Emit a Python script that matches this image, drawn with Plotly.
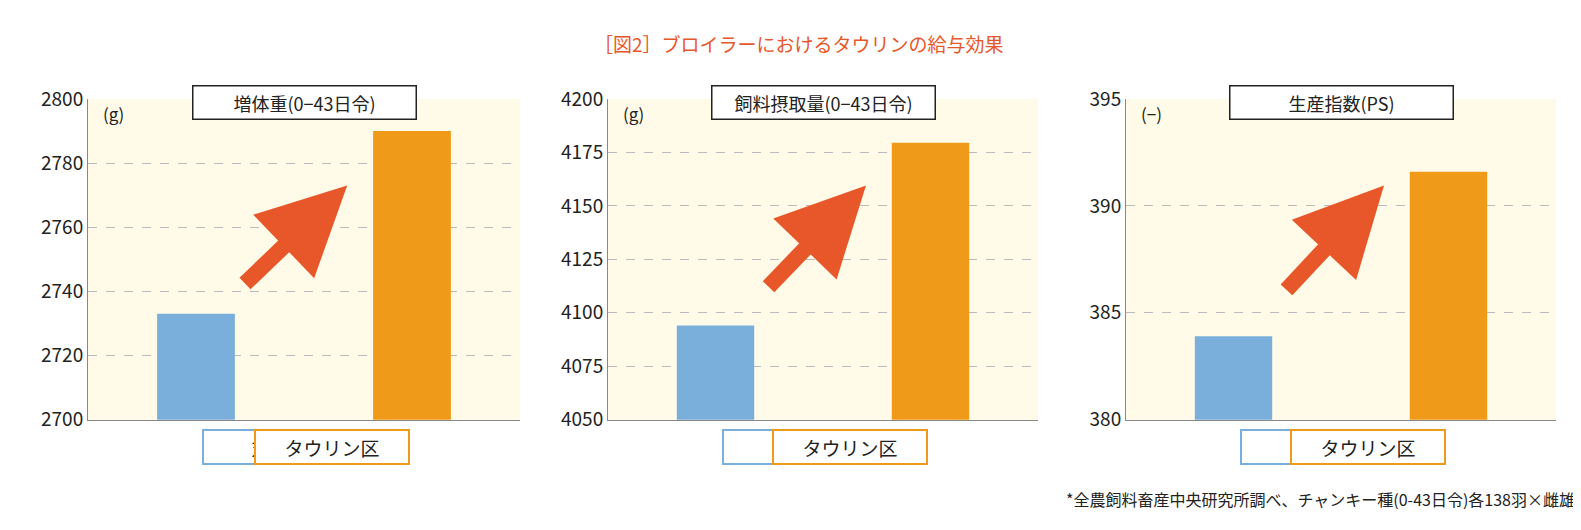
import plotly.graph_objects as go

# ── data ──
categories = ["対照区", "タウリン区"]
panel_titles = ["増体重(0−43日令)", "飼料摂取量(0−43日令)", "生産指数(PS)"]
units = ["(g)", "(g)", "(−)"]
weight_gain = [2733, 2790]
feed_intake = [4094, 4179.5]
production_index = [383.9, 391.6]
bar_labels = [["2733", "2790"], ["4094", "4179"], ["384", "392"]]
y_ranges = [[2700, 2800], [4050, 4200], [380, 395]]
y_dticks = [20, 25, 5]

BLUE = "#7aafdc"
ORANGE = "#f09a1a"
ARROW = "#e8572a"
FONT = "Noto Sans CJK JP"

W, H = 1581, 530
x_domains = [[80 / W, 512 / W], [600 / W, 1030 / W], [1118 / W, 1548 / W]]
y_domain = [1 - 418 / H, 1 - 80 / H]
arrows = [  # (tail x, tail y, head x, head y) in axis-domain fractions
    (0.36, 0.42, 0.6, 0.73),
    (0.37, 0.41, 0.6, 0.73),
    (0.37, 0.4, 0.6, 0.73),
]

fig = go.Figure()
series = [weight_gain, feed_intake, production_index]
for i, vals in enumerate(series):
    n = "" if i == 0 else str(i + 1)
    fig.add_trace(go.Bar(
        x=categories, y=vals, xaxis="x" + n, yaxis="y" + n,
        marker_color=[BLUE, ORANGE], marker_line_width=0,
        text=bar_labels[i], textposition="inside", insidetextanchor="start",
        textfont=dict(size=18, color="#222", family=FONT),
        showlegend=False, hoverinfo="skip",
    ))
    fig.update_layout(**{
        "xaxis" + n: dict(domain=x_domains[i], anchor="y" + n, showticklabels=False,
                          showline=True, linecolor="#888", ticks="", fixedrange=True),
        "yaxis" + n: dict(domain=y_domain, anchor="x" + n, range=y_ranges[i], dtick=y_dticks[i],
                          showgrid=True, gridcolor="#bbb", griddash="dash", zeroline=False,
                          showline=True, linecolor="#888", ticks="",
                          tickfont=dict(size=19, color="#222", family=FONT)),
    })
    xr, yr = "x" + n + " domain", "y" + n + " domain"
    fig.add_annotation(xref=xr, yref=yr, x=0.5, y=0.99, yanchor="middle", text=panel_titles[i],
                       showarrow=False, bordercolor="#222", borderwidth=1.5, bgcolor="white",
                       width=220, height=30, font=dict(size=18, color="#222", family=FONT))
    fig.add_annotation(xref=xr, yref=yr, x=0.03, y=1.0, xanchor="left", yanchor="top",
                       text=units[i], showarrow=False,
                       font=dict(size=17, color="#222", family=FONT))
    for j, c in enumerate(categories):
        fig.add_annotation(xref=xr, yref=yr, x=0.265 + j * 0.48, y=-0.085, yanchor="middle",
                           text=c, showarrow=False, bordercolor=[BLUE, ORANGE][j],
                           borderwidth=2, bgcolor="white", width=150, height=30,
                           font=dict(size=19, color="#222", family=FONT))
    tx, ty, hx, hy = arrows[i]
    fig.add_annotation(xref=xr, yref=yr, axref=xr, ayref=yr, x=hx, y=hy, ax=tx, ay=ty,
                       text="", showarrow=True, arrowhead=2, arrowsize=1.1,
                       arrowwidth=16, arrowcolor=ARROW, standoff=0, startstandoff=0)

fig.add_annotation(xref="paper", yref="paper", x=0.5, y=1 - 22 / H, yanchor="middle",
                   text="［図2］ブロイラーにおけるタウリンの給与効果", showarrow=False,
                   font=dict(size=19, color="#e8572a", family=FONT))
fig.add_annotation(xref="paper", yref="paper", x=1 - 12 / W, y=1 - 502 / H, xanchor="right",
                   yanchor="middle", text="*全農飼料畜産中央研究所調べ、チャンキー種(0-43日令)各138羽×雌雄",
                   showarrow=False, font=dict(size=16, color="#222", family=FONT))

fig.update_layout(width=W, height=H, margin=dict(l=0, r=0, t=0, b=0),
                  paper_bgcolor="white", plot_bgcolor="#fffbe8",
                  bargap=0.64, font=dict(family=FONT))
fig.write_html("out.html")
